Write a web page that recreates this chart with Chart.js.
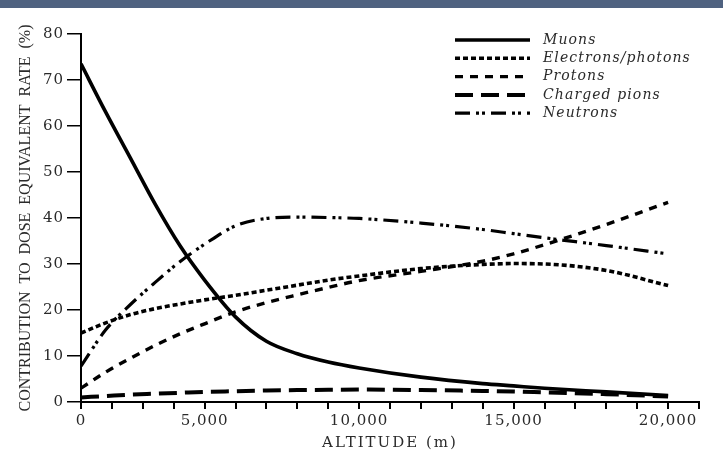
<!DOCTYPE html>
<html><head><meta charset="utf-8">
<script src="https://cdn.jsdelivr.net/npm/chart.js@4/dist/chart.umd.min.js"></script>
<style>
html,body{margin:0;padding:0;background:#fff;}
#wrap{position:relative;width:723px;height:454px;overflow:hidden;}
#bar{position:absolute;left:0;top:0;width:723px;height:8px;background:#4f6280;}
canvas{position:absolute;left:0;top:0;}
</style></head><body>
<div id="wrap"><canvas id="c" width="723" height="454"></canvas><div id="bar"></div></div>
<script>
// ---- data (altitude in m, contribution in %) ----
const ALTITUDES = [0,1000,2000,3000,4000,5000,6000,7000,8000,9000,10000,12000,14000,15000,16000,18000,20000];
const MUONS     = [73.5,63,53,43,34,26.5,18.5,13.2,10.5,8.7,7.4,5.4,4.0,3.5,3.0,2.2,1.4];
const ELECTRONS = [15,17.2,19,20.3,21.3,22.2,23.2,24.3,25.4,26.5,27.4,29.0,29.9,30.1,30.0,28.6,25.3];
const PROTONS   = [3,6.5,9.5,12.3,14.8,17,19.6,21.6,23.3,24.9,26.4,28.4,30.6,32.2,34.2,38.6,43.4];
const PIONS     = [1,1.3,1.6,1.8,2.0,2.2,2.35,2.5,2.6,2.65,2.7,2.6,2.4,2.3,2.1,1.7,1.2];
const NEUTRONS  = [7.8,15.7,21.2,26,30.5,34.3,38.3,39.9,40.2,40.1,39.9,38.9,37.5,36.6,35.7,34,32.2];
const SERIES_NAMES = ['Muons','Electrons/photons','Protons','Charged pions','Neutrons'];
const X_TICK_VALUES = [0,1250,2500,3750,5000,6000,7000,8000,9000,10000,11000,12000,13000,14000,15000,16000,17000,18000,19000,20000,21000];
const X_LABEL_VALUES = [0,5000,10000,15000,20000];
const X_TICK_LABELS = ['0','5,000','10,000','15,000','20,000'];
const Y_MIN = 0, Y_MAX = 80, Y_STEP = 10;
const X_TITLE = 'ALTITUDE (m)';
const Y_TITLE = 'CONTRIBUTION  TO  DOSE  EQUIVALENT  RATE  (%)';

// axis as printed: first 5,000 m compressed into 4 tick intervals
const BREAK_ALT = 5000, BREAK_U = 4000, U_MAX = 20000;

function withSpacing(ctx, sp, fn){ const p = ctx.letterSpacing; ctx.letterSpacing = sp; fn(); ctx.letterSpacing = p; }

const LS = Chart.LinearScale;
class AltitudeScale extends LS {
  getPixelForValue(v){
    if (v === null || v === undefined || isNaN(v)) return NaN;
    const u = v <= BREAK_ALT ? v * BREAK_U / BREAK_ALT : v - (BREAK_ALT - BREAK_U);
    return this.getPixelForDecimal(u / U_MAX);
  }
  getValueForPixel(p){
    const u = this.getDecimalForPixel(p) * U_MAX;
    return u <= BREAK_U ? u * BREAK_ALT / BREAK_U : u + (BREAK_ALT - BREAK_U);
  }
  drawLabels(a){ withSpacing(this.ctx, '1px', () => super.drawLabels(a)); }
  drawTitle(){ withSpacing(this.ctx, '2px', () => super.drawTitle()); }
}
AltitudeScale.id = 'altitude';
AltitudeScale.defaults = LS.defaults;

class SpacedLinear extends LS {
  drawLabels(a){ withSpacing(this.ctx, '1px', () => super.drawLabels(a)); }
}
SpacedLinear.id = 'spacedLinear';
SpacedLinear.defaults = LS.defaults;
Chart.register(AltitudeScale, SpacedLinear);

const styles = [
  {w:3.6, dash:[]},
  {w:3.6, dash:[5,3]},
  {w:3.4, dash:[8,7]},
  {w:4,   dash:[18,8]},
  {w:3.2, dash:[15,6,3,3,3,6]}
];
const SERIES = [MUONS, ELECTRONS, PROTONS, PIONS, NEUTRONS];
const datasets = SERIES.map((vals, k) => ({
  label: SERIES_NAMES[k],
  data: ALTITUDES.map((a, i) => ({x: a, y: vals[i]})),
  borderColor: '#000',
  borderWidth: styles[k].w,
  borderDash: styles[k].dash,
  pointRadius: 0,
  fill: false,
  cubicInterpolationMode: 'monotone'
}));

const legendPlugin = {
  id: 'dashLegend',
  afterDraw(chart){
    const ctx = chart.ctx;
    chart.data.datasets.forEach((ds, i) => {
      const y = 40 + i * 18.3;
      ctx.save();
      ctx.strokeStyle = ds.borderColor;
      ctx.lineWidth = ds.borderWidth;
      ctx.setLineDash(ds.borderDash || []);
      ctx.beginPath(); ctx.moveTo(455, y); ctx.lineTo(530, y); ctx.stroke();
      ctx.setLineDash([]);
      ctx.font = 'italic 14px "DejaVu Serif"';
      ctx.letterSpacing = '1.1px';
      ctx.fillStyle = '#2a2a2a';
      ctx.textBaseline = 'middle';
      ctx.textAlign = 'left';
      ctx.fillText(ds.label, 543, y);
      ctx.restore();
    });
  }
};

const tickFont = {family: 'DejaVu Serif', size: 15};
new Chart(document.getElementById('c'), {
  type: 'line',
  data: {datasets},
  plugins: [legendPlugin],
  options: {
    animation: false, responsive: false, devicePixelRatio: 1,
    layout: {padding: {top: 34, right: 24, left: 0, bottom: 0}},
    plugins: {legend: {display: false}, tooltip: {enabled: false}},
    scales: {
      x: {
        type: 'altitude', min: 0, max: 21000,
        afterBuildTicks: s => { s.ticks = X_TICK_VALUES.map(v => ({value: v})); },
        afterFit: s => { s.height = 52; },
        ticks: {autoSkip: false, maxRotation: 0, font: tickFont, color: '#2a2a2a', padding: 3,
          callback: v => { const i = X_LABEL_VALUES.indexOf(v); return i < 0 ? '' : X_TICK_LABELS[i]; }},
        grid: {display: true, drawOnChartArea: false, drawTicks: true, tickLength: 7, color: '#000', lineWidth: 2},
        border: {display: true, color: '#000', width: 2},
        title: {display: true, text: X_TITLE, font: {family: 'DejaVu Serif', size: 15}, color: '#2a2a2a', padding: {top: 0, bottom: 2}}
      },
      y: {
        type: 'spacedLinear', min: Y_MIN, max: Y_MAX,
        afterFit: s => { s.width = 81; },
        ticks: {stepSize: Y_STEP, font: tickFont, color: '#2a2a2a', padding: 3},
        grid: {display: true, drawOnChartArea: false, drawTicks: true, tickLength: 14, color: '#000', lineWidth: 1.5},
        border: {display: true, color: '#000', width: 2},
        title: {display: true, text: Y_TITLE, font: {family: 'Liberation Serif', size: 16}, color: '#2a2a2a', padding: {top: 16, bottom: 0}}
      }
    }
  }
});
</script>
</body></html>
